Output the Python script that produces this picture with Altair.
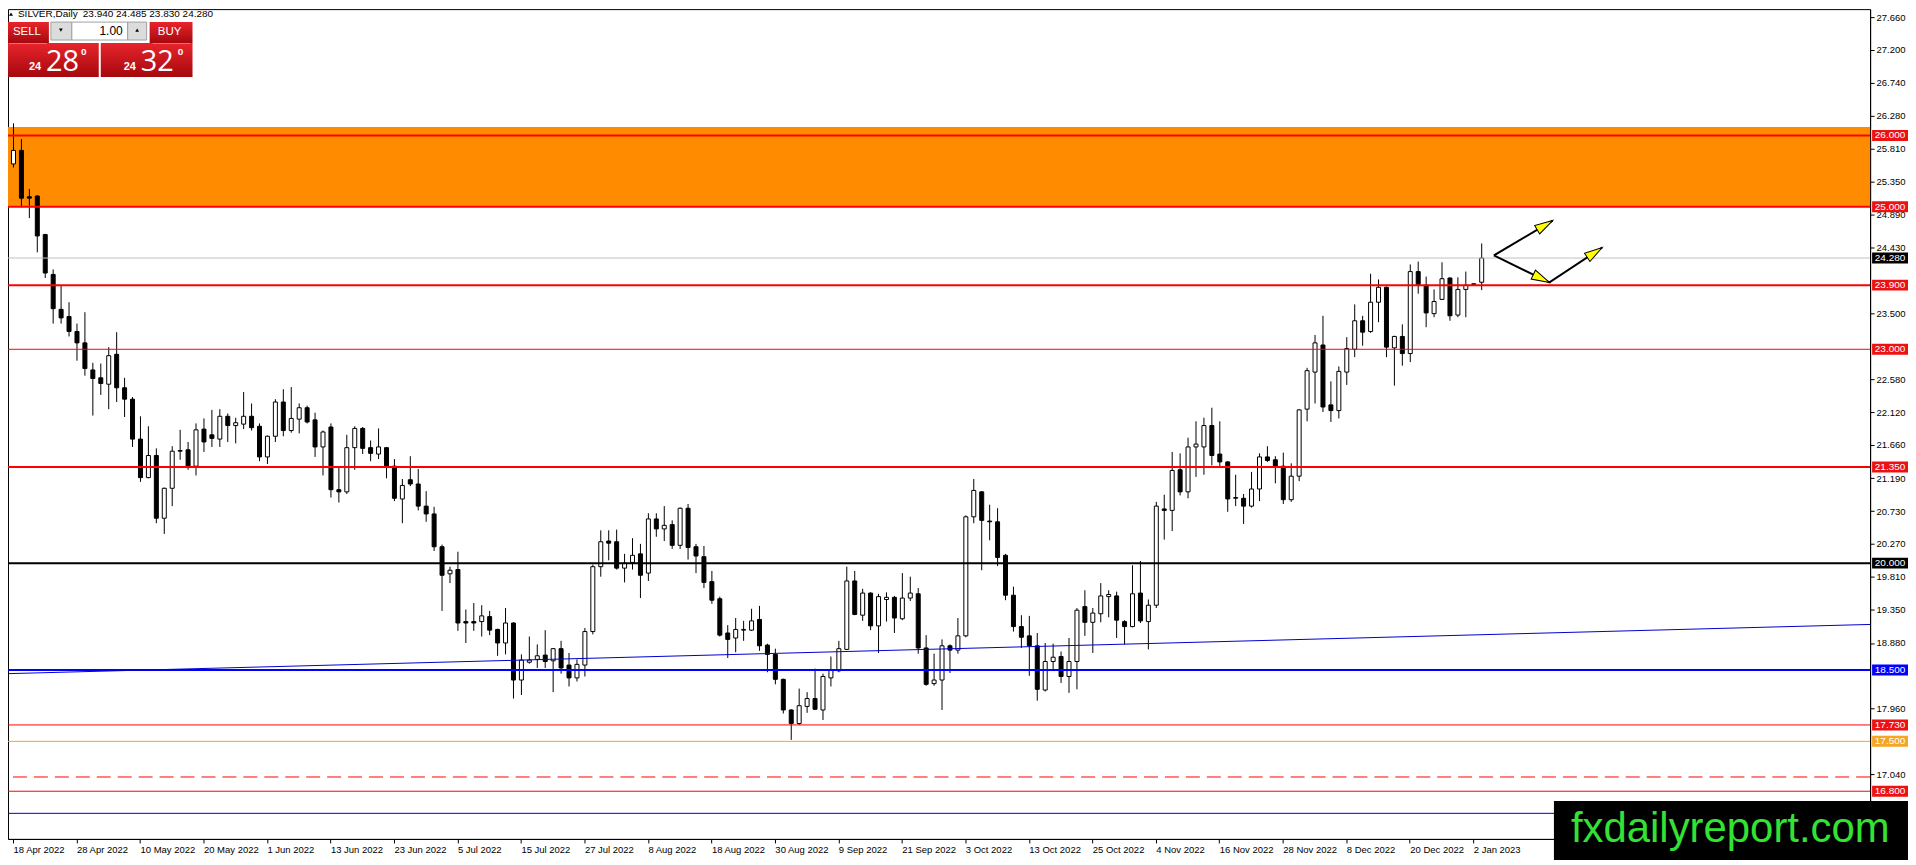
import json
import math
import altair as alt
import pandas as pd

# ---------------- data ----------------
opens = [25.60, 25.79, 25.14, 25.15, 24.61, 24.05, 23.56, 23.46, 23.25, 23.09,
         22.71, 22.60, 22.51, 22.93, 22.46, 22.30, 21.74, 21.20, 21.51, 20.63,
         21.05, 21.57, 21.59, 21.36, 21.88, 21.80, 21.74, 22.06, 21.93, 21.95,
         22.06, 21.92, 21.49, 21.78, 22.26, 21.86, 22.02, 22.18, 22.01, 21.63,
         21.91, 21.03, 21.00, 21.62, 21.89, 21.62, 21.53, 21.62, 21.36, 20.90,
         21.17, 21.11, 20.80, 20.69, 20.23, 19.85, 19.91, 19.18, 19.18, 19.18,
         19.25, 19.07, 18.88, 19.16, 18.36, 18.61, 18.65, 18.71, 18.63, 18.80,
         18.57, 18.39, 18.57, 19.04, 19.95, 20.31, 20.30, 19.93, 20.01, 20.13,
         19.86, 20.62, 20.48, 20.54, 20.25, 20.77, 20.23, 20.09, 19.74, 19.50,
         19.02, 18.95, 19.06, 19.06, 19.21, 18.85, 18.72, 18.37, 17.94, 17.75,
         17.99, 18.10, 17.94, 18.39, 18.49, 18.79, 19.75, 19.27, 19.58, 19.12,
         19.49, 19.52, 19.22, 19.51, 19.57, 18.81, 18.31, 18.36, 18.84, 18.78,
         18.98, 20.65, 21.00, 20.59, 20.58, 20.11, 19.55, 19.11, 18.98, 18.84,
         18.22, 18.62, 18.69, 18.41, 18.62, 19.39, 19.17, 19.29, 19.53, 19.54,
         19.18, 19.11, 19.58, 19.18, 19.41, 20.76, 20.74, 21.31, 21.00, 21.63,
         21.63, 21.93, 21.53, 21.42, 20.91, 20.91, 20.80, 21.04, 21.49, 21.45,
         21.36, 20.89, 21.22, 22.16, 22.68, 23.06, 22.22, 22.14, 22.68, 23.00,
         23.40, 23.25, 23.66, 23.87, 23.02, 23.18, 22.94, 24.09, 23.90, 23.50,
         23.70, 24.00, 23.48, 23.84, 23.91, 23.94]
highs = [26.17, 25.95, 25.25, 25.16, 24.62, 24.12, 23.89, 23.66, 23.36, 23.52,
         22.81, 22.80, 23.03, 23.24, 22.60, 22.33, 22.06, 21.92, 21.61, 21.06,
         21.64, 21.87, 21.70, 21.96, 22.03, 22.15, 22.16, 22.10, 22.04, 22.40,
         22.24, 21.96, 21.79, 22.30, 22.44, 22.47, 22.24, 22.21, 22.11, 21.86,
         21.96, 21.35, 21.80, 21.92, 21.91, 21.72, 21.89, 21.63, 21.46, 21.18,
         21.50, 21.32, 21.01, 20.79, 20.26, 19.95, 20.16, 19.35, 19.44, 19.41,
         19.33, 19.08, 19.37, 19.17, 18.72, 18.97, 18.86, 19.06, 18.81, 18.91,
         18.74, 18.65, 19.09, 19.98, 20.46, 20.46, 20.47, 20.13, 20.35, 20.27,
         20.70, 20.70, 20.80, 20.60, 20.78, 20.83, 20.27, 20.24, 19.89, 19.53,
         19.13, 19.23, 19.19, 19.36, 19.40, 18.87, 18.80, 18.38, 17.95, 18.24,
         18.19, 18.52, 18.45, 18.69, 18.91, 19.95, 19.89, 19.64, 19.59, 19.57,
         19.59, 19.54, 19.86, 19.81, 19.65, 18.99, 18.73, 18.93, 18.86, 19.23,
         20.67, 21.18, 21.01, 20.82, 20.77, 20.13, 19.67, 19.27, 19.26, 19.02,
         18.88, 18.87, 18.76, 18.95, 19.37, 19.62, 19.37, 19.72, 19.62, 19.60,
         19.20, 19.97, 20.03, 19.49, 20.86, 20.96, 21.56, 21.54, 21.76, 21.99,
         22.04, 22.18, 21.99, 21.43, 21.24, 20.97, 21.28, 21.54, 21.64, 21.50,
         21.55, 21.40, 22.16, 22.74, 23.20, 23.47, 22.55, 22.76, 23.17, 23.63,
         23.47, 24.06, 23.98, 23.88, 23.19, 23.35, 24.19, 24.23, 24.02, 23.84,
         24.22, 24.01, 24.01, 24.09, 23.92, 24.485]
lows = [25.55, 24.99, 24.84, 24.36, 24.00, 23.36, 23.36, 23.18, 22.84, 22.63,
        22.07, 22.36, 22.16, 22.26, 22.05, 21.63, 21.14, 21.19, 20.56, 20.41,
        20.80, 21.45, 21.31, 21.23, 21.56, 21.63, 21.63, 21.70, 21.68, 21.88,
        21.86, 21.43, 21.39, 21.70, 21.78, 21.83, 21.82, 21.96, 21.49, 21.23,
        20.92, 20.85, 20.97, 21.31, 21.53, 21.43, 21.46, 21.19, 20.87, 20.56,
        21.08, 20.74, 20.58, 20.17, 19.33, 19.72, 19.05, 18.88, 19.05, 18.97,
        18.99, 18.70, 18.72, 18.10, 18.15, 18.59, 18.53, 18.53, 18.19, 18.45,
        18.27, 18.34, 18.41, 19.00, 19.81, 20.04, 19.91, 19.73, 19.91, 19.51,
        19.75, 20.37, 20.31, 20.20, 20.20, 20.05, 19.86, 19.65, 19.43, 18.97,
        18.67, 18.75, 18.91, 19.05, 18.77, 18.47, 18.30, 17.89, 17.52, 17.73,
        17.90, 17.94, 17.80, 18.27, 18.47, 18.78, 19.27, 19.19, 19.06, 18.74,
        19.18, 19.02, 19.20, 19.47, 18.73, 18.28, 18.28, 17.94, 18.46, 18.73,
        18.96, 20.56, 19.90, 20.32, 19.96, 19.48, 19.04, 18.81, 18.42, 18.07,
        18.20, 18.49, 18.32, 18.18, 18.23, 18.98, 18.74, 19.17, 19.24, 18.95,
        18.86, 19.10, 19.16, 18.79, 19.37, 20.33, 20.45, 20.95, 20.91, 21.21,
        21.24, 21.37, 21.35, 20.72, 20.80, 20.55, 20.78, 20.87, 21.42, 21.12,
        20.83, 20.86, 21.15, 21.99, 22.24, 22.12, 21.98, 22.03, 22.50, 22.89,
        23.05, 23.23, 23.38, 22.89, 22.49, 22.77, 22.82, 23.78, 23.31, 23.45,
        23.69, 23.40, 23.45, 23.45, 23.91, 23.83]
closes = [25.79, 25.12, 25.12, 24.59, 24.07, 23.57, 23.44, 23.25, 23.09, 22.73,
          22.59, 22.52, 22.91, 22.46, 22.30, 21.74, 21.20, 21.51, 20.63, 21.05,
          21.57, 21.58, 21.36, 21.87, 21.70, 21.75, 22.06, 21.93, 21.97, 22.06,
          21.90, 21.49, 21.78, 22.26, 21.86, 22.03, 22.18, 21.98, 21.63, 21.84,
          21.03, 21.00, 21.62, 21.89, 21.61, 21.54, 21.63, 21.35, 20.91, 21.09,
          21.11, 20.80, 20.69, 20.23, 19.83, 19.90, 19.16, 19.16, 19.16, 19.26,
          19.06, 18.88, 19.16, 18.36, 18.64, 18.64, 18.70, 18.62, 18.80, 18.53,
          18.39, 18.58, 19.04, 19.95, 20.30, 20.28, 19.93, 20.00, 20.11, 19.83,
          20.62, 20.48, 20.53, 20.25, 20.77, 20.22, 20.10, 19.73, 19.48, 18.99,
          18.93, 19.07, 19.07, 19.19, 18.84, 18.72, 18.37, 17.94, 17.75, 18.00,
          18.10, 17.95, 18.41, 18.50, 18.80, 19.75, 19.28, 19.58, 19.12, 19.53,
          19.52, 19.23, 19.51, 19.58, 18.81, 18.30, 18.36, 18.84, 18.78, 18.98,
          20.65, 21.02, 20.60, 20.58, 20.08, 19.55, 19.11, 18.96, 18.84, 18.23,
          18.62, 18.68, 18.41, 18.62, 19.34, 19.17, 19.30, 19.54, 19.56, 19.20,
          19.11, 19.57, 19.19, 19.41, 20.80, 20.74, 21.30, 21.00, 21.63, 21.67,
          21.93, 21.51, 21.42, 20.90, 20.92, 20.80, 21.04, 21.49, 21.44, 21.36,
          20.89, 21.22, 22.15, 22.70, 23.09, 22.19, 22.14, 22.69, 23.01, 23.40,
          23.24, 23.66, 23.87, 23.03, 23.18, 22.94, 24.09, 23.91, 23.51, 23.67,
          23.99, 23.47, 23.84, 23.90, 23.92, 24.28]

date_labels = ["18 Apr 2022", "28 Apr 2022", "10 May 2022", "20 May 2022", "1 Jun 2022",
               "13 Jun 2022", "23 Jun 2022", "5 Jul 2022", "15 Jul 2022", "27 Jul 2022",
               "8 Aug 2022", "18 Aug 2022", "30 Aug 2022", "9 Sep 2022", "21 Sep 2022",
               "3 Oct 2022", "13 Oct 2022", "25 Oct 2022", "4 Nov 2022", "16 Nov 2022",
               "28 Nov 2022", "8 Dec 2022", "20 Dec 2022", "2 Jan 2023"]
label_every = 8

# price-axis ticks that are visible in the picture (the others sit under price tags)
price_ticks = [27.66, 27.20, 26.74, 26.28, 25.81, 25.35, 24.89, 24.43, 23.50,
               22.58, 22.12, 21.66, 21.19, 20.73, 20.27, 19.81, 19.35, 18.88,
               17.96, 17.04]

band_low, band_high = 25.0, 26.12
level_prices = [26.0, 25.0, 24.28, 23.9, 23.0, 21.35, 20.0, 18.5, 17.73, 17.5, 16.8]
dashed_level = 17.0
bottom_level = 16.49
trend_x = [-0.5, 234.0]
trend_y = [18.45, 19.14]

arrow_ids = ["a", "a", "b", "b", "b"]
arrow_seq = [0, 1, 0, 1, 2]
arrow_x = [186.6, 194.0, 186.6, 193.6, 200.25]
arrow_y = [24.316, 24.806, 24.316, 23.938, 24.428]

symbol_name = "SILVER,Daily"
sell_price = 24.280
buy_price = 24.320
lot_size = "1.00"
brand = "fxdailyreport.com"

# ---------------- styles ----------------
RED, BLACK, BLUE, ORANGE, GRAY = "#ff0000", "#000000", "#0000ff", "#ffa500", "#c0c0c0"
line_style = {26.0: (RED, 2), 25.0: (RED, 2), 24.28: (GRAY, 1), 23.9: (RED, 2),
              23.0: (RED, 1), 21.35: (RED, 2), 20.0: (BLACK, 2), 18.5: (BLUE, 2),
              17.73: (RED, 1), 17.5: (ORANGE, 1), 16.8: (RED, 1)}
label_bg = {26.0: "#ee1111", 25.0: "#ee1111", 24.28: BLACK, 23.9: "#ee1111",
            23.0: "#ee1111", 21.35: "#ee1111", 20.0: BLACK, 18.5: BLUE,
            17.73: "#ee1111", 17.5: "#f5a623", 16.8: "#ee1111"}
FONT = "Liberation Sans"

W, H = 1867, 832
X_DOM = [0, W / 8]
Y_DOM = [16.131, 27.772]
xs = alt.Scale(domain=X_DOM, nice=False, zero=False)
ys = alt.Scale(domain=Y_DOM, nice=False, zero=False)
px_bar = W / (X_DOM[1] - X_DOM[0])
px_unit = H / (Y_DOM[1] - Y_DOM[0])

n = len(opens)
candles = pd.DataFrame({"i": list(range(n)), "open": opens, "high": highs,
                        "low": lows, "close": closes})

tick_idx = list(range(0, n, label_every))[:len(date_labels)]
x_axis = alt.Axis(values=tick_idx,
                  labelExpr=f"{json.dumps(date_labels)}[round(datum.value / {label_every})]",
                  tickSize=4, labelPadding=2, labelAlign="left", labelBaseline="top",
                  labelOverlap=False, labelFlush=False, labelBound=False, grid=False,
                  title=None)
y_axis = alt.Axis(orient="right", values=price_ticks, format=".3f", tickSize=4,
                  labelPadding=2, labelOverlap=False, labelFlush=False, grid=False,
                  labelBaseline="middle", title=None)


def X(field):
    return alt.X(field, scale=xs, axis=x_axis, title=None)


def Y(field):
    return alt.Y(field, scale=ys, axis=y_axis, title=None)


dummy = pd.DataFrame({"k": [0]})

# band
band = alt.Chart(pd.DataFrame({"lo": [band_low], "hi": [band_high]})).mark_rect(
    color="#ff8c00", opacity=1).encode(
    x=alt.value(0), x2=alt.value(W), y=Y("lo:Q"), y2="hi:Q")

# candles
wicks = alt.Chart(candles).mark_rule(color="black", strokeWidth=1, xOffset=0.5).encode(
    x=X("i:Q"), y=Y("low:Q"), y2="high:Q")
bodies = alt.Chart(candles).mark_bar(size=4, stroke="black", strokeWidth=1,
                                     xOffset=0.5, opacity=1).encode(
    x=X("i:Q"), y=Y("open:Q"), y2="close:Q",
    fill=alt.when(alt.datum.close >= alt.datum.open).then(alt.value("white")).otherwise(alt.value("black")))

# level lines
levels_df = pd.DataFrame({"price": level_prices,
                          "color": [line_style[p][0] for p in level_prices],
                          "w": [line_style[p][1] for p in level_prices]})
levels = alt.Chart(levels_df).mark_rule().encode(
    y=Y("price:Q"),
    color=alt.Color("color:N", scale=None),
    strokeWidth=alt.StrokeWidth("w:Q", scale=None))
dashed = alt.Chart(pd.DataFrame({"price": [dashed_level]})).mark_rule(
    color=RED, strokeWidth=1, strokeDash=[14, 7]).encode(y=Y("price:Q"))
bottom_line = alt.Chart(pd.DataFrame({"price": [bottom_level]})).mark_rule(
    color="#0000cd", strokeWidth=1).encode(y=Y("price:Q"))
trend = alt.Chart(pd.DataFrame({"i": trend_x, "p": trend_y})).mark_line(
    color="#0000cd", strokeWidth=1, clip=True).encode(x=X("i:Q"), y=Y("p:Q"))

# arrows
arrows_df = pd.DataFrame({"arrow": arrow_ids, "seq": arrow_seq, "i": arrow_x, "p": arrow_y})
arrow_lines = alt.Chart(arrows_df).mark_line(color="black", strokeWidth=2).encode(
    x=X("i:Q"), y=Y("p:Q"), detail="arrow:N", order="seq:Q")
heads = []
for a in dict.fromkeys(arrow_ids):
    pts = arrows_df[arrows_df.arrow == a].sort_values("seq")
    xs_ = list(pts.i)
    ps_ = list(pts.p)
    for k in range(1, len(xs_)):
        dx = (xs_[k] - xs_[k - 1]) * px_bar
        dy = (ps_[k] - ps_[k - 1]) * px_unit
        ang = math.degrees(math.atan2(dx, dy)) % 360
        heads.append({"i": xs_[k], "p": ps_[k], "ang": ang})
arrow_heads = alt.Chart(pd.DataFrame(heads)).mark_point(
    shape="M0,0L0.55,2L-0.55,2Z", filled=True, fill="#ffff00", stroke="black",
    strokeWidth=1, size=324, opacity=1).encode(
    x=X("i:Q"), y=Y("p:Q"), angle=alt.Angle("ang:Q", scale=None))

# price tags on the right
lab_df = pd.DataFrame({"price": level_prices, "bg": [label_bg[p] for p in level_prices]})
lab_box = alt.Chart(lab_df).mark_point(
    shape="M-1.8,-0.55H1.8V0.55H-1.8Z", filled=True, size=400, opacity=1,
    strokeWidth=0).encode(
    x=alt.value(W + 20), y=Y("price:Q"), color=alt.Color("bg:N", scale=None))
lab_txt = alt.Chart(lab_df).mark_text(
    color="white", font=FONT, fontSize=10, align="center", baseline="middle").encode(
    x=alt.value(W + 20), y=Y("price:Q"), text=alt.Text("price:Q", format=".3f"))


def rect(x0, x1, y0, y1, **kw):
    return alt.Chart(dummy).mark_rect(**kw).encode(
        x=alt.value(x0), x2=alt.value(x1), y=alt.value(y0), y2=alt.value(y1))


def txt(t, x, y, **kw):
    kw.setdefault("font", FONT)
    return alt.Chart(dummy).mark_text(text=t, **kw).encode(x=alt.value(x), y=alt.value(y))


red_grad = alt.LinearGradient(
    gradient="linear",
    stops=[alt.GradientStop(color="#e8242c", offset=0),
           alt.GradientStop(color="#a5080e", offset=1)],
    x1=0, x2=0, y1=0, y2=1)

ohlc_txt = f"{opens[-1]:.3f} {highs[-1]:.3f} {lows[-1]:.3f} {closes[-1]:.3f}"
s_txt = f"{sell_price:.3f}"
b_txt = f"{buy_price:.3f}"

chrome = [
    alt.Chart(dummy).mark_point(shape="triangle-up", filled=True, color="black",
                                size=16, opacity=1).encode(x=alt.value(3), y=alt.value(5)),
    txt(symbol_name, 10, 5, fontSize=10, align="left", baseline="middle", color="black"),
    txt(ohlc_txt, 75, 5, fontSize=10, align="left", baseline="middle", color="black"),
    rect(-2, 41, 13, 34, fill=red_grad),
    rect(142, 185, 13, 34, fill=red_grad),
    rect(-2, 91, 34, 68, fill=red_grad),
    rect(93, 185, 34, 68, fill=red_grad),
    rect(1, 39, 34, 34.8, fill="#f08a8a"),
    rect(145, 183, 34, 34.8, fill="#f08a8a"),
    rect(43, 64, 13, 31, fill="#dcdcdc", stroke="#a0a0a0", strokeWidth=1),
    rect(64, 120, 13, 31, fill="white", stroke="#a0a0a0", strokeWidth=1),
    rect(120, 139, 13, 31, fill="#dcdcdc", stroke="#a0a0a0", strokeWidth=1),
    alt.Chart(dummy).mark_point(shape="triangle-down", filled=True, color="black",
                                size=14, opacity=1).encode(x=alt.value(53), y=alt.value(21)),
    alt.Chart(dummy).mark_point(shape="triangle-up", filled=True, color="black",
                                size=14, opacity=1).encode(x=alt.value(129.5), y=alt.value(21)),
    txt("SELL", 19, 23, fontSize=11.5, align="center", baseline="middle", color="white"),
    txt("BUY", 162, 23, fontSize=11.5, align="center", baseline="middle", color="white"),
    txt(lot_size, 115, 22, fontSize=12, align="right", baseline="middle", color="black"),
    txt(s_txt[:2], 21, 61, fontSize=11, fontWeight="bold", align="left",
        baseline="alphabetic", color="white"),
    txt(s_txt[3:5], 38, 62, font="Open Sans", fontSize=29, align="left",
        baseline="alphabetic", color="white"),
    txt(s_txt[5:], 76, 46, fontSize=10, fontWeight="bold", align="center",
        baseline="alphabetic", color="white"),
    txt(b_txt[:2], 116, 61, fontSize=11, fontWeight="bold", align="left",
        baseline="alphabetic", color="white"),
    txt(b_txt[3:5], 133, 62, font="Open Sans", fontSize=29, align="left",
        baseline="alphabetic", color="white"),
    txt(b_txt[5:], 173, 46, fontSize=10, fontWeight="bold", align="center",
        baseline="alphabetic", color="white"),
    rect(1550, 1915, 794, 870, fill="black"),
    txt(brand, 1567, 835, fontSize=42, align="left", baseline="alphabetic",
        color="#33e233"),
]

layers = [band, wicks, bodies, levels, dashed, bottom_line, trend,
          arrow_lines, arrow_heads, lab_box, lab_txt] + chrome

chart = alt.layer(*layers).properties(
    width=W, height=H,
    padding={"left": 0, "top": 0, "right": 38, "bottom": 20},
    autosize=alt.AutoSizeParams(type="none"),
).configure_view(stroke="black", strokeWidth=1).configure_axis(
    labelFont=FONT, labelFontSize=9.5, labelColor="black",
    tickColor="black", domainColor="black", tickWidth=1, domainWidth=1,
)

chart.save("out.html", embed_options={"renderer": "svg", "actions": False})
